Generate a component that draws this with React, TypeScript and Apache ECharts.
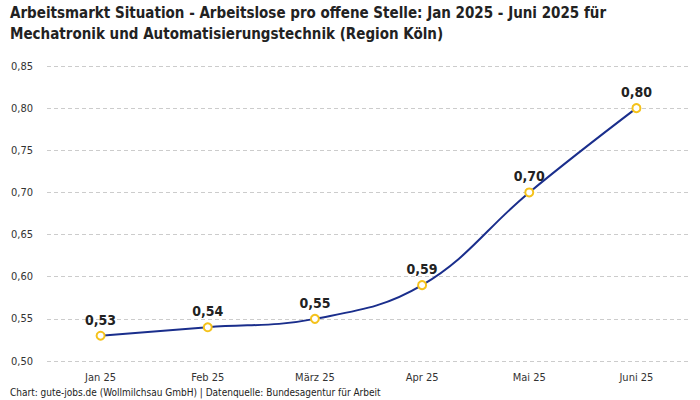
import React, { useEffect, useRef } from "react";
import * as echarts from "echarts";

const categories = ["Jan 25", "Feb 25", "März 25", "Apr 25", "Mai 25", "Juni 25"];
const values = [0.53, 0.54, 0.55, 0.59, 0.7, 0.8];
const titleText =
  "Arbeitsmarkt Situation - Arbeitslose pro offene Stelle: Jan 2025 - Juni 2025 für\nMechatronik und Automatisierungstechnik (Region Köln)";
const footerText = "Chart: gute-jobs.de (Wollmilchsau GmbH) | Datenquelle: Bundesagentur für Arbeit";

const fmt = (v: number) => v.toFixed(2).replace(".", ",");

export default function App() {
  const ref = useRef<HTMLDivElement>(null);
  useEffect(() => {
    document.body.style.margin = "0";
    const chart = echarts.init(ref.current!, undefined, { renderer: "svg" });
    chart.setOption({
      animation: false,
      backgroundColor: "#ffffff",
      title: {
        text: titleText,
        left: 10,
        top: 2,
        padding: 0,
        textStyle: {
          fontFamily: "DejaVu Sans Condensed",
          fontWeight: "bold",
          fontSize: 15,
          lineHeight: 21,
          color: "#222222",
        },
      },
      graphic: [
        {
          type: "text",
          left: 10,
          top: 387,
          style: {
            text: footerText,
            fontFamily: "DejaVu Sans Condensed",
            fontSize: 10,
            fill: "#222222",
          },
        },
      ],
      grid: { left: 47, right: 10, top: 66, bottom: 39, containLabel: false },
      xAxis: {
        type: "category",
        data: categories,
        boundaryGap: true,
        axisLine: { show: false },
        axisTick: { show: false },
        axisLabel: {
          margin: 11,
          fontSize: 11,
          color: "#333333",
          fontFamily: "DejaVu Sans Condensed",
        },
      },
      yAxis: {
        type: "value",
        min: 0.5,
        max: 0.85,
        interval: 0.05,
        axisLine: { show: false },
        axisTick: { show: false },
        axisLabel: {
          margin: 14,
          fontSize: 11,
          color: "#333333",
          fontFamily: "DejaVu Sans Condensed",
          formatter: (v: number) => fmt(v),
        },
        splitLine: { lineStyle: { type: [4, 3], color: "#cccccc", width: 1 } },
      },
      series: [
        {
          type: "line",
          data: values,
          smooth: 0.4,
          symbol: "circle",
          symbolSize: 8,
          lineStyle: { color: "#1a2e8c", width: 2 },
          itemStyle: { color: "#ffffff", borderColor: "#f5c21b", borderWidth: 2 },
          label: {
            show: true,
            position: "top",
            distance: 4,
            fontSize: 14,
            fontWeight: 600,
            color: "#222222",
            fontFamily: "DejaVu Sans Condensed",
            formatter: (p: any) => fmt(p.value),
          },
          z: 3,
        },
      ],
    });
    return () => chart.dispose();
  }, []);
  return <div ref={ref} style={{ width: 700, height: 400 }} />;
}
